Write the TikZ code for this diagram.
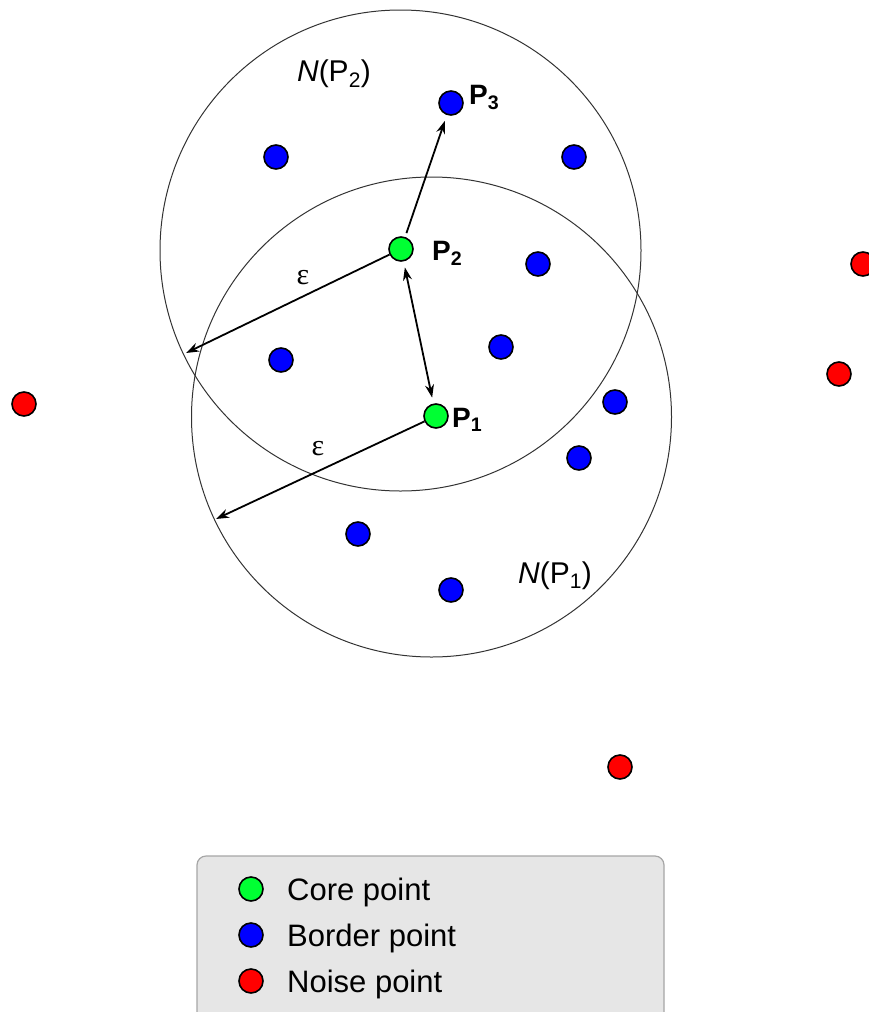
\documentclass[tikz,border=0pt]{standalone}
\usepackage{fontspec}
\setmainfont{Liberation Sans}
\newfontfamily\grk{Liberation Serif}
\usetikzlibrary{arrows.meta}
\definecolor{cgreen}{HTML}{00FF33}
\definecolor{cblue}{HTML}{0000FF}
\definecolor{cred}{HTML}{FF0000}
\definecolor{legfill}{HTML}{E6E6E6}
\definecolor{legdraw}{HTML}{A6A6A6}
\tikzset{
  pt/.style={circle, draw=black, line width=1.6pt, inner sep=0pt, minimum size=24pt},
  core/.style={pt, fill=cgreen},
  border/.style={pt, fill=cblue},
  noise/.style={pt, fill=cred},
  nbhd/.style={draw=black!80, line width=1pt},
  arr/.style={draw=black, line width=1.8pt, -{Stealth[length=13pt,width=9pt]}},
  darr/.style={draw=black, line width=1.8pt, {Stealth[length=13pt,width=9pt]}-{Stealth[length=13pt,width=9pt]}},
  lab/.style={font=\fontsize{28}{32}\selectfont\bfseries, anchor=base west, inner sep=0pt},
  nlab/.style={font=\fontsize{30}{34}\selectfont, anchor=base, inner sep=0pt},
  eps/.style={font=\grk\fontsize{30}{34}\selectfont, inner sep=0pt},
  legtext/.style={font=\fontsize{31}{35}\selectfont, anchor=base west, inner sep=0pt}
}
\begin{document}
\begin{tikzpicture}[x=1pt,y=-1pt]
\useasboundingbox (0,0) rectangle (869,1012);
\clip (0,0) rectangle (869,1012);
% neighbourhood centres
\coordinate (c2) at (400.5,250.5);
\coordinate (c1) at (431.5,417);
\draw[nbhd] (c2) circle[radius=240.5pt];
\draw[nbhd] (c1) circle[radius=240pt];
% core points
\node[core] (p2) at (401,249) {};
\node[core] (p1) at (436,416) {};
% border points
\node[border] (p3) at (451,103) {};
\node[border] (b1) at (276,157) {};
\node[border] (b2) at (574,157) {};
\node[border] (b3) at (538,264) {};
\node[border] (b4) at (501,347) {};
\node[border] (b5) at (281,360) {};
\node[border] (b6) at (615,402) {};
\node[border] (b7) at (579,458) {};
\node[border] (b8) at (358,534) {};
\node[border] (b9) at (451,590) {};
% noise points
\node[noise] (n1) at (24,404) {};
\node[noise] (n2) at (863,264) {};
\node[noise] (n3) at (839,374) {};
\node[noise] (n4) at (620,767) {};
% epsilon end points
\coordinate (e2) at (186,353);
\coordinate (e1) at (216,519);
% arrows
\draw[arr, shorten <=4pt, shorten >=6pt] (p2) -- (p3);
\draw[darr, shorten <=6pt, shorten >=6pt] (p2) -- (p1);
\draw[arr] (p2) -- (e2);
\draw[arr] (p1) -- (e1);
% labels
\node[lab] (lp3) at (469,104) {P\textsubscript{3}};
\node[lab] (lp2) at (432,260) {P\textsubscript{2}};
\node[lab] (lp1) at (452,427) {P\textsubscript{1}};
\node[nlab] (ln2) at (334,81) {\textit{N}(P\textsubscript{2})};
\node[nlab] (ln1) at (555,583) {\textit{N}(P\textsubscript{1})};
\node[eps] (eps2) at (303,278) {ε};
\node[eps] (eps1) at (318,449) {ε};
% legend
\draw[draw=legdraw, fill=legfill, line width=1.2pt, rounded corners=9pt] (197,856) rectangle (664,1040);
\node[core] (lg1) at (251,889) {};
\node[border] (lg2) at (251,935) {};
\node[noise] (lg3) at (251,981) {};
\node[legtext] (lt1) at (287,900) {Core point};
\node[legtext] (lt2) at (287,946) {Border point};
\node[legtext] (lt3) at (287,992) {Noise point};
\end{tikzpicture}
\end{document}
